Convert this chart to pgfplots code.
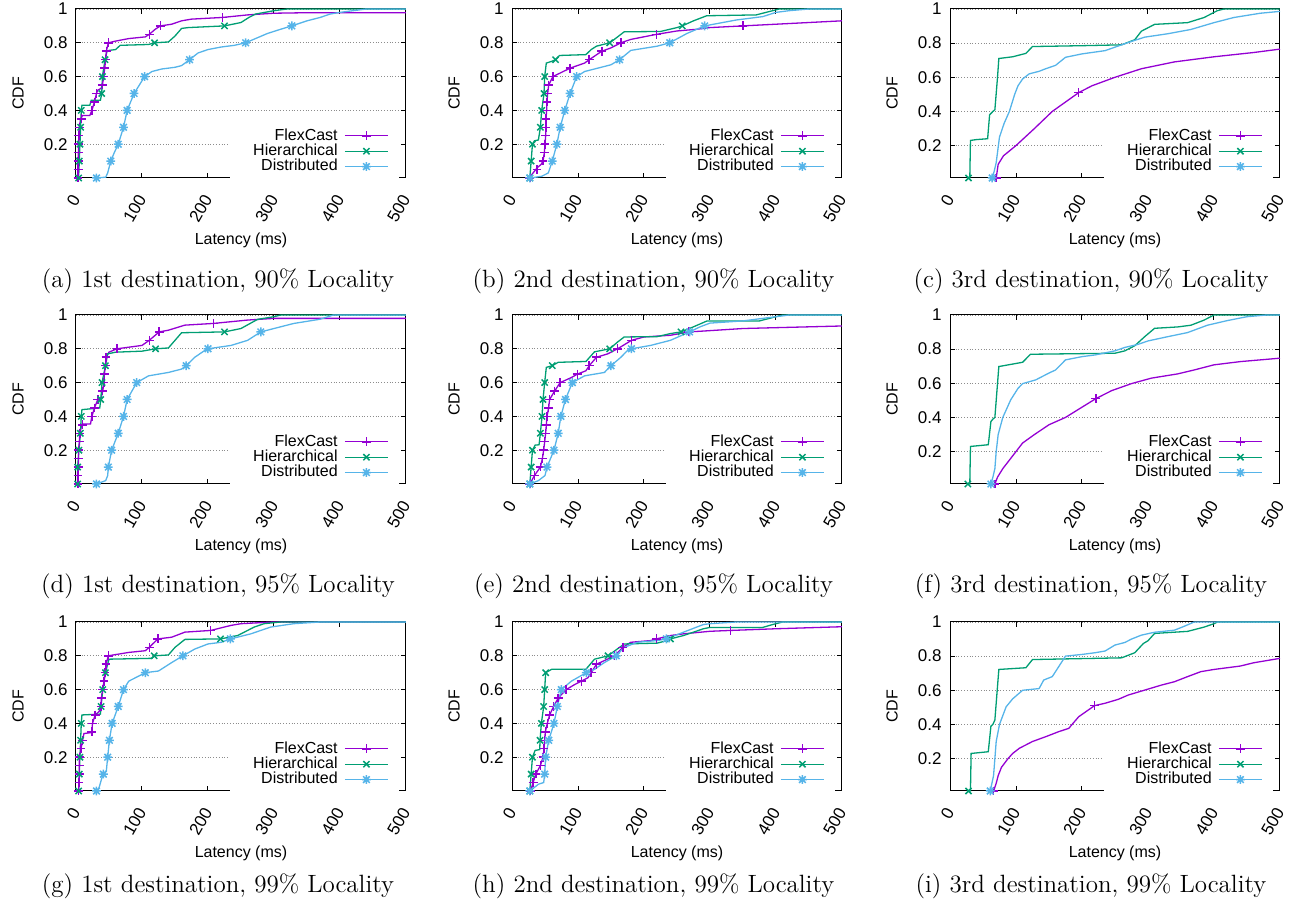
\documentclass[border=0pt]{standalone}
\usepackage{fontspec}
\newfontfamily\axisfont{Liberation Sans}
\usepackage{pgfplots}
\pgfplotsset{compat=1.18}
\definecolor{cflex}{RGB}{148,0,211}
\definecolor{chier}{RGB}{0,158,115}
\definecolor{cdist}{RGB}{86,180,233}
\pgfdeclareplotmark{gpstar}{%
 \pgfpathmoveto{\pgfqpoint{-\pgfplotmarksize}{0pt}}\pgfpathlineto{\pgfqpoint{\pgfplotmarksize}{0pt}}%
 \pgfpathmoveto{\pgfqpoint{0pt}{-\pgfplotmarksize}}\pgfpathlineto{\pgfqpoint{0pt}{\pgfplotmarksize}}%
 \pgfpathmoveto{\pgfqpoint{-0.75\pgfplotmarksize}{-0.75\pgfplotmarksize}}\pgfpathlineto{\pgfqpoint{0.75\pgfplotmarksize}{0.75\pgfplotmarksize}}%
 \pgfpathmoveto{\pgfqpoint{-0.75\pgfplotmarksize}{0.75\pgfplotmarksize}}\pgfpathlineto{\pgfqpoint{0.75\pgfplotmarksize}{-0.75\pgfplotmarksize}}%
 \pgfusepathqstroke}
\newcommand{\af}{\axisfont\fontsize{8}{9.6}\selectfont}
\newcommand{\tf}{\axisfont\fontsize{8.5}{10}\selectfont}
\pgfplotsset{
 flexl/.style={cflex, line width=0.65pt, mark=none},
 hierl/.style={chier, line width=0.65pt, mark=none},
 distl/.style={cdist, line width=0.65pt, mark=none},
 flexm/.style={cflex, only marks, mark=+, mark size=2.2pt, line width=0.75pt},
 hierm/.style={chier, only marks, mark=x, mark size=2.2pt, line width=0.75pt},
 distm/.style={cdist, only marks, mark=gpstar, mark size=2.2pt, line width=0.75pt},
 cdfax/.style={
  scale only axis, width=165pt, height=84.5pt,
  xmin=0, xmax=500, ymin=0, ymax=1,
  clip=false,
  xtick={0,100,200,300,400,500},
  ytick={0.2,0.4,0.6,0.8,1}, yticklabels={0.2,0.4,0.6,0.8,1},
  tick align=inside, major tick length=2.5pt,
  ymajorgrids, grid style={densely dotted, black!45, line width=0.45pt},
  axis line style={line width=0.5pt},
  tick style={black, line width=0.5pt},
  /pgf/number format/assume math mode=true,
  tick label style={font=\tf},
  xlabel={Latency (ms)}, ylabel={CDF},
  every axis x label/.style={at={(axis description cs:0.5,0)}, yshift=-31pt, anchor=center, font=\af},
  every axis y label/.style={at={(axis description cs:0,0.5)}, xshift=-29pt, rotate=90, anchor=center, font=\af},
  xticklabel style={yshift=-9pt, rotate=60, anchor=east, inner sep=0pt},
  yticklabel style={inner sep=0pt, xshift=-4pt, anchor=east},
  legend cell align=right, legend plot pos=right,
  legend image code/.code={\draw[mark repeat=2,mark phase=2,##1] plot coordinates {(0pt,0pt) (10.75pt,0pt) (21.5pt,0pt)};},
  legend style={at={(1,0)}, anchor=south east, xshift=-3.5pt, yshift=-0.35pt, fill=white, draw=none,
    inner xsep=5pt, inner ysep=2pt, column sep=1.3pt, row sep=0pt, font=\af,
    nodes={text height=6pt, text depth=1.7pt, inner ysep=0pt}},
 },
}
\newcommand{\leg}{%
 \addlegendimage{cflex, line width=0.65pt, mark=+, mark size=2.2pt, mark options={line width=0.75pt}}
 \addlegendentry{\makebox[46.8pt][r]{FlexCast}}
 \addlegendimage{chier, line width=0.65pt, mark=x, mark size=2.2pt, mark options={line width=0.75pt}}
 \addlegendentry{\makebox[46.8pt][r]{Hierarchical}}
 \addlegendimage{cdist, line width=0.65pt, mark=gpstar, mark size=2.2pt, mark options={line width=0.75pt}}
 \addlegendentry{\makebox[46.8pt][r]{Distributed}}
}
\newcommand{\capt}[1]{\fontsize{12.5}{15}\selectfont #1}
\begin{document}
\begin{tikzpicture}
\useasboundingbox (0,0) rectangle (649pt,-454pt);
% ---------------- (a)
\begin{axis}[cdfax, at={(38pt,-89pt)}, anchor=south west]
\leg
\addplot[flexl] coordinates {(3,0) (3.2,0.05) (3.4,0.1) (3.6,0.15) (4,0.2) (4.2,0.25) (5,0.3) (7,0.35) (10,0.37) (21,0.37) (24,0.4) (28,0.45) (31,0.5) (33,0.52) (38,0.53) (40,0.55) (42,0.6) (43.5,0.65) (45,0.7) (46,0.75) (49,0.8) (60,0.81) (80,0.825) (105,0.835) (111,0.85) (120,0.88) (128,0.9) (145,0.91) (160,0.93) (175,0.94) (222,0.95) (260,0.965) (300,0.975) (350,0.978) (500,0.978)};
\addplot[hierl] coordinates {(4,0) (5,0.1) (6,0.2) (7,0.3) (8,0.4) (9,0.43) (21,0.43) (23,0.46) (37,0.46) (39,0.5) (40,0.6) (44,0.7) (47,0.75) (50,0.755) (60,0.76) (67,0.785) (110,0.79) (119,0.8) (140,0.805) (150,0.84) (160,0.885) (170,0.89) (225,0.9) (250,0.92) (262,0.95) (272,0.97) (300,0.99) (320,1) (500,1)};
\addplot[distl] coordinates {(31,0) (45,0.005) (48,0.03) (52.7,0.1) (58,0.15) (64,0.2) (72,0.3) (77.5,0.4) (88,0.5) (104,0.6) (115,0.63) (130,0.645) (150,0.655) (160,0.665) (172,0.7) (185,0.74) (200,0.76) (220,0.775) (240,0.785) (257,0.8) (275,0.83) (290,0.855) (310,0.88) (327,0.9) (350,0.93) (370,0.95) (385,0.97) (400,0.98) (420,0.99) (440,1) (500,1)};
\addplot[flexm] coordinates {(3,0) (3.2,0.05) (3.4,0.1) (3.6,0.15) (4,0.2) (4.2,0.25) (5,0.3) (8,0.35) (24,0.4) (28,0.45) (31,0.5) (40,0.55) (42,0.6) (43.5,0.65) (45,0.7) (46,0.75) (49,0.8) (111,0.85) (128,0.9) (222,0.95)};
\addplot[hierm] coordinates {(4,0) (5,0.1) (6,0.2) (7,0.3) (8,0.4) (39,0.5) (40,0.6) (44,0.7) (119,0.8) (225,0.9)};
\addplot[distm] coordinates {(31,0) (52.7,0.1) (64,0.2) (72,0.3) (77.5,0.4) (88,0.5) (104,0.6) (172,0.7) (257,0.8) (327,0.9)};
\end{axis}
% ---------------- (b)
\begin{axis}[cdfax, at={(256pt,-89pt)}, anchor=south west]
\leg
\addplot[flexl] coordinates {(27,0) (30,0.02) (34,0.04) (38,0.06) (44,0.08) (47,0.1) (49,0.15) (50,0.2) (51,0.25) (51.5,0.3) (51.5,0.35) (52.5,0.4) (53,0.45) (54,0.5) (55.6,0.55) (62,0.6) (75,0.625) (88,0.65) (110,0.68) (117,0.7) (136,0.75) (150,0.77) (165,0.8) (180,0.82) (219,0.85) (250,0.87) (280,0.88) (300,0.89) (350,0.9) (400,0.91) (500,0.93)};
\addplot[hierl] coordinates {(27,0) (29,0.1) (31,0.2) (34,0.22) (40,0.225) (43,0.3) (45,0.4) (48.5,0.5) (49.5,0.6) (52,0.68) (60,0.69) (66,0.7) (72,0.725) (112,0.73) (120,0.76) (128,0.78) (148,0.8) (155,0.82) (170,0.865) (225,0.867) (250,0.89) (258,0.9) (275,0.93) (295,0.96) (370,0.965) (385,0.98) (405,1) (500,1)};
\addplot[distl] coordinates {(27,0) (45,0.01) (55,0.03) (61,0.1) (68,0.2) (73,0.3) (80,0.4) (88,0.5) (98,0.6) (110,0.63) (130,0.65) (150,0.67) (163,0.7) (180,0.755) (220,0.78) (239,0.8) (265,0.855) (292,0.9) (340,0.935) (380,0.955) (400,0.98) (420,0.99) (450,1) (500,1)};
\addplot[flexm] coordinates {(27,0) (38,0.05) (47,0.1) (49,0.15) (50,0.2) (51,0.25) (51.5,0.3) (51.5,0.35) (52.5,0.4) (53,0.45) (54,0.5) (55.6,0.55) (62,0.6) (88,0.65) (117,0.7) (136,0.75) (165,0.8) (219,0.85) (350,0.9)};
\addplot[hierm] coordinates {(27,0) (29,0.1) (31,0.2) (43,0.3) (45,0.4) (48.5,0.5) (49.5,0.6) (66,0.7) (148,0.8) (258,0.9)};
\addplot[distm] coordinates {(27,0) (61,0.1) (68,0.2) (73,0.3) (80,0.4) (88,0.5) (98,0.6) (163,0.7) (239,0.8) (292,0.9)};
\end{axis}
% ---------------- (c)
\begin{axis}[cdfax, ymin=0.01, at={(475pt,-89pt)}, anchor=south west]
\leg
\addplot[flexl] coordinates {(70,0.01) (73,0.09) (81,0.14) (100,0.2) (128,0.3) (155,0.4) (195,0.51) (215,0.55) (250,0.6) (290,0.65) (340,0.69) (400,0.72) (460,0.745) (500,0.765)};
\addplot[hierl] coordinates {(28,0.01) (30,0.01) (31,0.23) (40,0.235) (57,0.24) (60,0.38) (65,0.4) (68,0.41) (72,0.6) (74,0.71) (95,0.72) (105,0.73) (115,0.74) (125,0.78) (200,0.785) (260,0.79) (280,0.82) (290,0.87) (310,0.91) (360,0.92) (385,0.95) (405,0.99) (415,1) (500,1)};
\addplot[distl] coordinates {(64,0.01) (67,0.05) (70,0.1) (75,0.25) (82,0.33) (90,0.4) (98,0.5) (103,0.55) (110,0.59) (120,0.62) (135,0.635) (145,0.65) (160,0.67) (175,0.717) (200,0.737) (235,0.756) (260,0.79) (275,0.81) (295,0.835) (330,0.855) (365,0.88) (400,0.92) (430,0.95) (470,0.975) (500,0.986)};
\addplot[flexm] coordinates {(70,0.01) (195,0.51)};
\addplot[hierm] coordinates {(28,0.01)};
\addplot[distm] coordinates {(64,0.01)};
\end{axis}
% ---------------- (d)
\begin{axis}[cdfax, at={(38pt,-242pt)}, anchor=south west]
\leg
\addplot[flexl] coordinates {(3,0) (3.5,0.1) (4,0.2) (5,0.25) (6,0.3) (8,0.34) (10,0.355) (22,0.355) (24,0.4) (28,0.45) (33,0.5) (38,0.51) (40.5,0.55) (42.5,0.6) (43,0.65) (44.6,0.7) (45.6,0.75) (50,0.78) (62,0.8) (100,0.82) (111,0.85) (126,0.9) (140,0.91) (165,0.94) (208,0.95) (260,0.97) (300,0.98) (500,0.98)};
\addplot[hierl] coordinates {(2.5,0) (2.5,0.1) (4.5,0.2) (6.6,0.3) (8,0.4) (9,0.44) (36,0.45) (37.5,0.5) (39.5,0.6) (44.6,0.7) (48,0.77) (60,0.78) (100,0.786) (120.5,0.8) (140,0.805) (150,0.85) (160,0.895) (225,0.9) (250,0.92) (275,0.974) (300,0.99) (310,1) (500,1)};
\addplot[distl] coordinates {(31,0) (45,0.02) (48,0.05) (49,0.1) (54,0.2) (64,0.3) (72,0.4) (77.5,0.5) (92,0.6) (110,0.64) (140,0.66) (160,0.68) (167,0.7) (180,0.75) (195,0.79) (200,0.8) (235,0.82) (260,0.85) (280,0.9) (310,0.93) (330,0.95) (370,0.975) (390,1) (500,1)};
\addplot[flexm] coordinates {(3,0) (3,0.05) (3.5,0.1) (3.5,0.15) (4,0.2) (5,0.25) (6,0.3) (10,0.35) (24,0.4) (28,0.45) (33,0.5) (40.5,0.55) (42.5,0.6) (43,0.65) (44.6,0.7) (45.6,0.75) (62,0.8) (111,0.85) (126,0.9) (208,0.95)};
\addplot[hierm] coordinates {(2.5,0) (2.5,0.1) (4.5,0.2) (6.6,0.3) (8,0.4) (37.5,0.5) (39.5,0.6) (44.6,0.7) (120.5,0.8) (225,0.9)};
\addplot[distm] coordinates {(31,0) (49,0.1) (54,0.2) (64,0.3) (72,0.4) (77.5,0.5) (92,0.6) (167,0.7) (200,0.8) (280,0.9)};
\end{axis}
% ---------------- (e)
\begin{axis}[cdfax, at={(256pt,-242pt)}, anchor=south west]
\leg
\addplot[flexl] coordinates {(27,0) (34,0.05) (43,0.1) (46,0.15) (48,0.2) (49.5,0.25) (51,0.3) (52,0.35) (53,0.4) (55.5,0.45) (57,0.5) (64.6,0.55) (73,0.6) (90,0.63) (99,0.65) (112,0.67) (117,0.7) (128,0.75) (145,0.77) (160,0.8) (181,0.85) (200,0.87) (240,0.88) (268,0.9) (290,0.905) (350,0.92) (500,0.935)};
\addplot[hierl] coordinates {(27,0) (29,0.1) (31,0.2) (35,0.23) (41,0.232) (43,0.3) (45.5,0.4) (47,0.5) (49.5,0.6) (52,0.69) (61,0.7) (70,0.72) (112,0.725) (125,0.782) (148,0.8) (160,0.84) (170,0.87) (220,0.872) (240,0.89) (256,0.9) (275,0.93) (295,0.964) (375,0.965) (395,0.985) (410,1) (500,1)};
\addplot[distl] coordinates {(27,0) (40,0.02) (50,0.05) (53,0.1) (63.6,0.2) (70,0.3) (74,0.4) (81,0.5) (91.4,0.6) (110,0.64) (140,0.66) (150,0.7) (165,0.75) (175,0.79) (181,0.8) (210,0.82) (240,0.85) (269,0.9) (285,0.93) (300,0.952) (350,0.965) (400,0.99) (420,1) (500,1)};
\addplot[flexm] coordinates {(27,0) (34,0.05) (43,0.1) (46,0.15) (48,0.2) (49.5,0.25) (51,0.3) (52,0.35) (53,0.4) (55.5,0.45) (57,0.5) (64.6,0.55) (73,0.6) (99,0.65) (117,0.7) (128,0.75) (160,0.8) (181,0.85) (268,0.9)};
\addplot[hierm] coordinates {(27,0) (29,0.1) (31,0.2) (43,0.3) (45.5,0.4) (47,0.5) (49.5,0.6) (61,0.7) (148,0.8) (256,0.9)};
\addplot[distm] coordinates {(27,0) (53,0.1) (63.6,0.2) (70,0.3) (74,0.4) (81,0.5) (91.4,0.6) (150,0.7) (181,0.8) (269,0.9)};
\end{axis}
% ---------------- (f)
\begin{axis}[cdfax, ymin=0.01, at={(475pt,-242pt)}, anchor=south west]
\leg
\addplot[flexl] coordinates {(68,0.01) (72,0.05) (80,0.1) (100,0.2) (110,0.25) (128,0.3) (150,0.357) (175,0.4) (195,0.448) (221,0.51) (245,0.557) (275,0.598) (305,0.63) (345,0.655) (370,0.678) (400,0.708) (440,0.727) (500,0.747)};
\addplot[hierl] coordinates {(27,0.01) (30,0.01) (31,0.23) (58,0.24) (62,0.376) (65,0.39) (68,0.4) (74,0.698) (110,0.723) (122,0.77) (250,0.776) (265,0.79) (280,0.82) (295,0.873) (310,0.922) (345,0.93) (365,0.94) (385,0.97) (400,1) (500,1)};
\addplot[distl] coordinates {(62,0.01) (65,0.05) (68,0.1) (70,0.2) (73,0.3) (80,0.4) (92,0.503) (103,0.57) (110,0.598) (130,0.62) (150,0.66) (160,0.678) (175,0.737) (200,0.756) (220,0.766) (250,0.79) (265,0.81) (285,0.828) (300,0.848) (330,0.873) (360,0.897) (390,0.94) (420,0.967) (450,0.99) (480,1) (500,1)};
\addplot[flexm] coordinates {(68,0.01) (221,0.51)};
\addplot[hierm] coordinates {(27,0.01)};
\addplot[distm] coordinates {(62,0.01)};
\end{axis}
% ---------------- (g)
\begin{axis}[cdfax, at={(38pt,-395.5pt)}, anchor=south west]
\leg
\addplot[flexl] coordinates {(4,0) (4.5,0.05) (5,0.1) (5,0.15) (5,0.2) (7.6,0.25) (10,0.3) (12,0.34) (22,0.345) (24,0.35) (25,0.4) (29,0.45) (35,0.47) (38,0.5) (38.5,0.55) (40.5,0.6) (42.5,0.65) (44,0.7) (45.6,0.75) (49,0.8) (80,0.82) (105,0.83) (111,0.85) (124,0.9) (145,0.91) (165,0.94) (204,0.95) (235,0.98) (250,0.99) (300,1) (500,1)};
\addplot[hierl] coordinates {(4,0) (5,0.1) (6,0.2) (7,0.3) (8,0.4) (9,0.45) (37,0.455) (38,0.5) (40.5,0.6) (44.6,0.7) (50,0.78) (115,0.785) (118.5,0.8) (140,0.805) (150,0.85) (165,0.897) (219,0.9) (245,0.92) (270,0.97) (285,0.99) (310,1) (500,1)};
\addplot[distl] coordinates {(31,0) (35,0.02) (39,0.075) (41.5,0.1) (46,0.12) (48,0.2) (50.6,0.3) (54.7,0.4) (64,0.5) (72,0.6) (80,0.65) (90,0.67) (105,0.7) (125,0.71) (145,0.76) (162,0.8) (180,0.84) (200,0.87) (220,0.88) (234,0.9) (265,0.93) (295,0.97) (330,0.99) (370,1) (500,1)};
\addplot[flexm] coordinates {(4,0) (4.5,0.05) (5,0.1) (5,0.15) (5,0.2) (7.6,0.25) (10,0.3) (24,0.35) (25,0.4) (29,0.45) (38,0.5) (38.5,0.55) (40.5,0.6) (42.5,0.65) (44,0.7) (45.6,0.75) (49,0.8) (111,0.85) (124,0.9) (204,0.95)};
\addplot[hierm] coordinates {(4,0) (5,0.1) (6,0.2) (7,0.3) (8,0.4) (38,0.5) (40.5,0.6) (44.6,0.7) (118.5,0.8) (219,0.9)};
\addplot[distm] coordinates {(31,0) (41.5,0.1) (48,0.2) (50.6,0.3) (54.7,0.4) (64,0.5) (72,0.6) (105,0.7) (162,0.8) (234,0.9)};
\end{axis}
% ---------------- (h)
\begin{axis}[cdfax, at={(256pt,-395.5pt)}, anchor=south west]
\leg
\addplot[flexl] coordinates {(28,0) (32,0.05) (36,0.1) (43,0.15) (47,0.2) (48.5,0.25) (49.5,0.3) (50.5,0.35) (53.5,0.4) (57,0.45) (63,0.5) (70,0.55) (82,0.6) (95,0.63) (105,0.65) (115,0.67) (120,0.7) (128,0.75) (155.6,0.8) (168,0.85) (180,0.88) (210,0.89) (219,0.9) (240,0.92) (260,0.93) (300,0.945) (331,0.95) (400,0.96) (500,0.972)};
\addplot[hierl] coordinates {(27,0) (29,0.1) (31,0.2) (35,0.24) (42,0.245) (42.5,0.3) (44.5,0.4) (48,0.5) (49.5,0.6) (51,0.7) (60,0.72) (112,0.72) (125,0.78) (145.5,0.8) (170,0.87) (220,0.875) (235,0.89) (240,0.9) (260,0.92) (290,0.96) (300,0.968) (380,0.968) (395,0.985) (410,1) (500,1)};
\addplot[distl] coordinates {(27,0) (40,0.04) (48,0.05) (49.5,0.1) (51,0.2) (55.6,0.3) (63.6,0.4) (68.7,0.5) (74.7,0.6) (90,0.65) (112.6,0.7) (125,0.72) (140,0.76) (158,0.8) (170,0.85) (190,0.88) (220,0.89) (234,0.9) (260,0.94) (290,0.985) (300,0.99) (340,1) (500,1)};
\addplot[flexm] coordinates {(28,0) (32,0.05) (36,0.1) (43,0.15) (47,0.2) (48.5,0.25) (49.5,0.3) (50.5,0.35) (53.5,0.4) (57,0.45) (63,0.5) (70,0.55) (82,0.6) (105,0.65) (120,0.7) (128,0.75) (155.6,0.8) (168,0.85) (219,0.9) (331,0.95)};
\addplot[hierm] coordinates {(27,0) (29,0.1) (31,0.2) (42.5,0.3) (44.5,0.4) (48,0.5) (49.5,0.6) (51,0.7) (145.5,0.8) (240,0.9)};
\addplot[distm] coordinates {(27,0) (49.5,0.1) (51,0.2) (55.6,0.3) (63.6,0.4) (68.7,0.5) (74.7,0.6) (112.6,0.7) (158,0.8) (234,0.9)};
\end{axis}
% ---------------- (i)
\begin{axis}[cdfax, ymin=0.01, at={(475pt,-395.5pt)}, anchor=south west]
\leg
\addplot[flexl] coordinates {(66,0.01) (70,0.055) (73,0.1) (78,0.149) (88,0.2) (95,0.23) (105,0.26) (125,0.3) (145,0.328) (165,0.358) (180,0.377) (185,0.4) (195,0.445) (219,0.51) (235,0.524) (255,0.547) (270,0.572) (295,0.601) (320,0.63) (340,0.65) (360,0.68) (380,0.709) (400,0.722) (440,0.742) (460,0.761) (500,0.787)};
\addplot[hierl] coordinates {(28,0.01) (31,0.01) (32,0.23) (58,0.24) (62,0.39) (65,0.4) (68,0.426) (74,0.722) (115,0.732) (125,0.78) (260,0.79) (280,0.82) (293,0.874) (300,0.89) (310,0.933) (360,0.945) (385,0.97) (400,0.99) (405,1) (500,1)};
\addplot[distl] coordinates {(61,0.01) (66,0.1) (70,0.3) (75,0.4) (85,0.503) (95,0.55) (110,0.6) (135,0.61) (142,0.66) (155,0.68) (175,0.8) (200,0.81) (220,0.82) (235,0.83) (250,0.865) (265,0.88) (275,0.9) (290,0.923) (310,0.94) (340,0.952) (355,0.975) (370,1) (500,1)};
\addplot[flexm] coordinates {(66,0.01) (219,0.51)};
\addplot[hierm] coordinates {(28,0.01)};
\addplot[distm] coordinates {(61,0.01)};
\end{axis}
% ---------------- captions
\node at (109pt,-140.5pt) {\capt{(a) 1st destination, 90\% Locality}};
\node at (326.75pt,-140.5pt) {\capt{(b) 2nd destination, 90\% Locality}};
\node at (545.5pt,-140.5pt) {\capt{(c) 3rd destination, 90\% Locality}};
\node at (109pt,-293pt) {\capt{(d) 1st destination, 95\% Locality}};
\node at (326.75pt,-293pt) {\capt{(e) 2nd destination, 95\% Locality}};
\node at (545.5pt,-293pt) {\capt{(f) 3rd destination, 95\% Locality}};
\node at (109pt,-443pt) {\capt{(g) 1st destination, 99\% Locality}};
\node at (326.75pt,-443pt) {\capt{(h) 2nd destination, 99\% Locality}};
\node at (545.5pt,-443pt) {\capt{(i) 3rd destination, 99\% Locality}};
\end{tikzpicture}
\end{document}
